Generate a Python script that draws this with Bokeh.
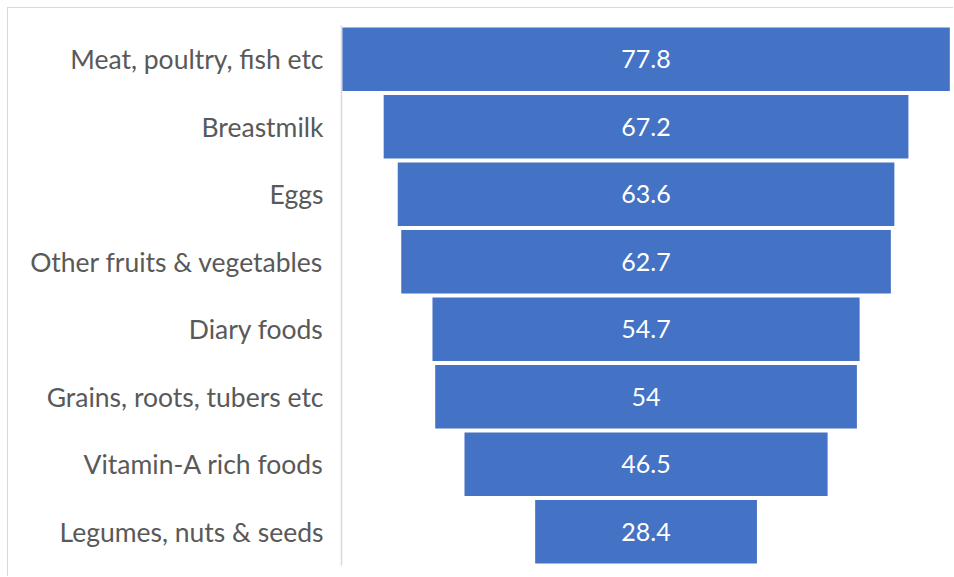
from bokeh.plotting import figure
from bokeh.models import Range1d
from bokeh.core.properties import value
from bokeh.embed import file_html
from bokeh.resources import INLINE

categories = ["Meat, poultry, fish etc", "Breastmilk", "Eggs", "Other fruits & vegetables",
              "Diary foods", "Grains, roots, tubers etc", "Vitamin-A rich foods", "Legumes, nuts & seeds"]
values = [77.8, 67.2, 63.6, 62.7, 54.7, 54, 46.5, 28.4]
value_labels = ["77.8", "67.2", "63.6", "62.7", "54.7", "54", "46.5", "28.4"]

factors = list(reversed(categories))
lefts = [-v / 2 for v in values]
rights = [v / 2 for v in values]

p = figure(width=946, height=569, y_range=factors, x_range=Range1d(-39.0, 39.5),
           output_backend="svg", toolbar_location=None,
           min_border_left=333, min_border_right=0, min_border_top=17, min_border_bottom=12,
           margin=(7, 0, 0, 7),
           styles={"border-top": "1px solid #d9d9d9", "border-left": "1px solid #d9d9d9"})

p.hbar(y=categories, left=lefts, right=rights, height=0.94, fill_color="#4472C4", line_color=None)
p.text(x=[0] * len(values), y=categories, text=value_labels, text_color="white",
       text_font=value("Lato"), text_font_size="25px", text_align="center", text_baseline="middle")

p.xaxis.visible = False
p.xgrid.visible = False
p.ygrid.visible = False
p.outline_line_color = None
p.background_fill_color = "white"
p.border_fill_color = "white"

ax = p.yaxis[0]
ax.axis_line_color = "#d9d9d9"
ax.axis_line_width = 1.5
ax.major_tick_line_color = None
ax.minor_tick_line_color = None
ax.major_tick_out = 0
ax.major_tick_in = 0
ax.major_label_standoff = 18
ax.major_label_text_font = "Lato"
ax.major_label_text_font_size = "26.5px"
ax.major_label_text_color = "#595959"

open("out.html", "w").write(file_html(p, INLINE))
